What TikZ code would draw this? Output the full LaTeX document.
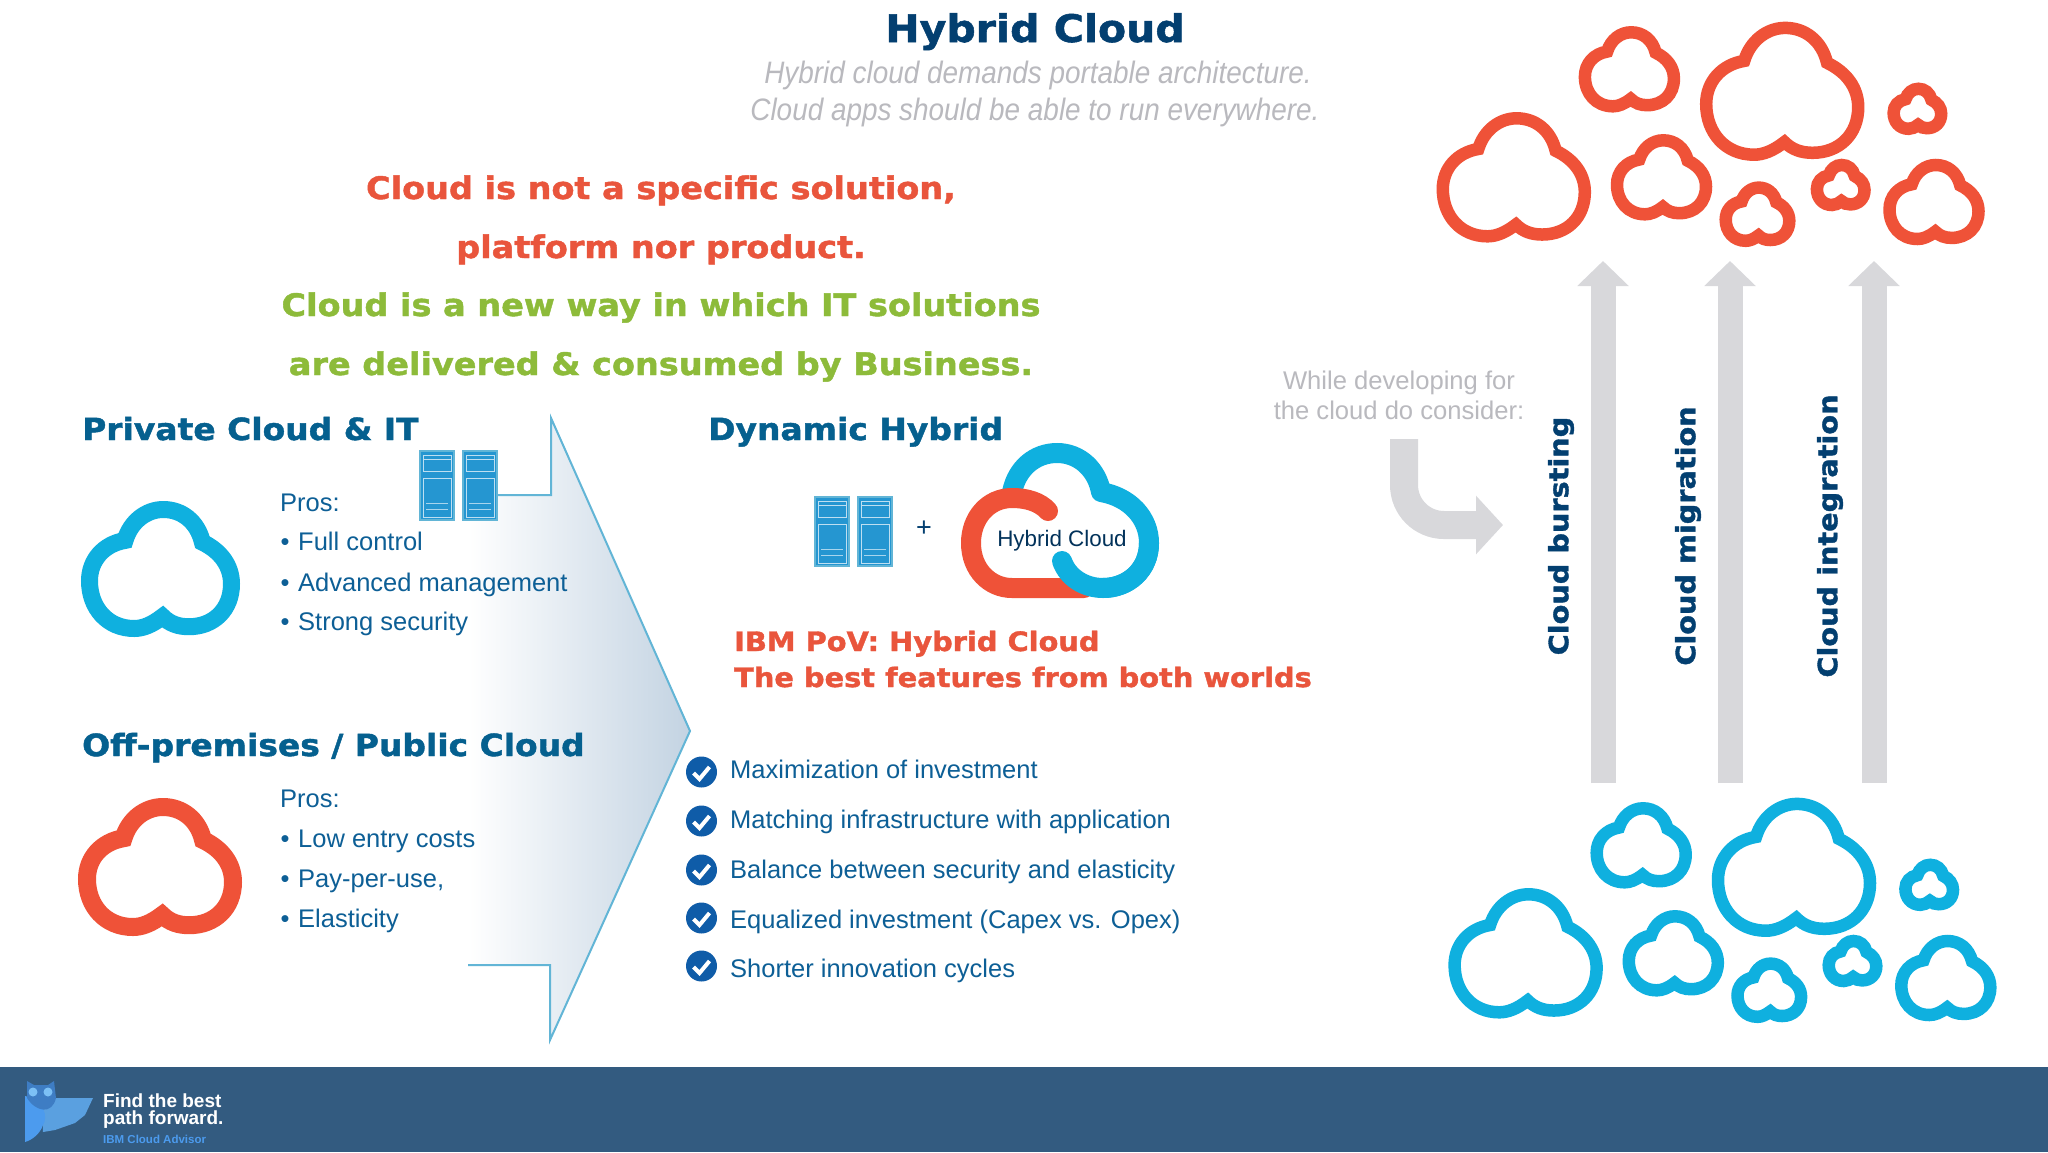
\documentclass[tikz,border=0pt]{standalone}
\usepackage{fontspec}
\setmainfont{Liberation Sans}
\newfontfamily\headfont[FakeStretch=1.08,FakeBold=1.4]{DejaVu Sans Bold}
\newfontfamily\narrowfont[FakeStretch=0.9]{Liberation Sans}
\usepackage{tikz}
\usetikzlibrary{arrows.meta}

\definecolor{cloudred}{HTML}{EF5238}
\definecolor{textred}{HTML}{E9553C}
\definecolor{cloudblue}{HTML}{0FB0DF}
\definecolor{headblue}{HTML}{05608F}
\definecolor{navy}{HTML}{033F70}
\definecolor{bodyblue}{HTML}{0D5F96}
\definecolor{leafgreen}{HTML}{8DBB3A}
\definecolor{palegray}{HTML}{D8D8DB}
\definecolor{textgray}{HTML}{B9B9BE}
\definecolor{edgeblue}{HTML}{62B5D6}
\definecolor{shadeblue}{HTML}{C3D3E2}
\definecolor{serverblue}{HTML}{2596D1}
\definecolor{footerblue}{HTML}{335B80}
\definecolor{checkblue}{HTML}{0F5CA8}
\definecolor{owlbody}{HTML}{4C9BEE}
\definecolor{owlhead}{HTML}{3E7DC4}
\definecolor{owlwing}{HTML}{5AA0E0}
\definecolor{owleye}{HTML}{7CC0F5}

\newcommand{\cloudshape}[6]{
	\draw [#6, line width=#5pt, shift={(#1,#2)}, x=#3pt, y=#4pt]
		(.03,-.8) .. controls (-.12,-.94) and (-.25,-1) .. (-.37,-1)
		.. controls (-.75,-1) and (-1,-.65) .. (-1,-.2)
		.. controls (-1,.15) and (-.8,.42) .. (-.5,.48)
		.. controls (-.42,.8) and (-.2,1) .. (.04,1)
		.. controls (.3,1) and (.52,.8) .. (.59,.45)
		.. controls (.85,.3) and (1,.05) .. (1,-.25)
		.. controls (1,-.68) and (.75,-.97) .. (.4,-.97)
		.. controls (.25,-.97) and (.13,-.92) .. (.03,-.8) -- cycle;
}
\newcommand{\cloudset}[3]{
	\begin{scope}[shift={(#1,#2)}]
		\cloudshape{1513.8}{177.3}{71}{59}{12.5}{#3}
		\cloudshape{1629.4}{69.3}{44.5}{37}{12.5}{#3}
		\cloudshape{1782.2}{91.3}{76}{63.4}{12.5}{#3}
		\cloudshape{1917.4}{108.8}{23.8}{20}{12.5}{#3}
		\cloudshape{1661.5}{177.3}{44.5}{37}{12.5}{#3}
		\cloudshape{1757.5}{214.2}{31.8}{26.6}{12.5}{#3}
		\cloudshape{1840.7}{185}{23.8}{20}{12.5}{#3}
		\cloudshape{1934}{202}{44.5}{37}{12.5}{#3}
	\end{scope}
}
\newcommand{\serverunit}[2]{
	\begin{scope}[shift={(#1,#2)}]
		\fill [serverblue] (0,0) rectangle (34,69);
		\draw [white!70!serverblue, line width=1pt] (3,4) rectangle (31,20);
		\draw [white!70!serverblue, line width=1pt] (3,27) rectangle (31,66);
		\draw [white!70!serverblue, line width=1pt] (3,8) -- (31,8);
		\draw [white!60!serverblue, line width=1pt] (6,52) -- (28,52);
		\draw [white!60!serverblue, line width=1pt] (6,58) -- (28,58);
		\draw [edgeblue, line width=1.2pt] (0,0) rectangle (34,69);
	\end{scope}
}
\newcommand{\tickmark}[2]{
	\fill [checkblue] (#1,#2) circle [radius=15.5];
	\draw [white, line width=4pt, shift={(#1,#2)}] (-8,1) -- (-2,7) -- (8,-5);
}

\tikzset{
	headline/.style = {font = \headfont\fontsize{30.5}{36}\selectfont, text = headblue, anchor = base west, inner sep = 0pt},
	slogan/.style = {font = \headfont\fontsize{31}{36}\selectfont, anchor = base, inner sep = 0pt},
	worst/.style = {font = \headfont\fontsize{26.7}{32}\selectfont, text = textred, anchor = base west, inner sep = 0pt},
	bodytext/.style = {font = \fontsize{25.5}{30}\selectfont, text = bodyblue, anchor = base west, inner sep = 0pt},
	bulletdot/.style = {font = \fontsize{25.5}{30}\selectfont, text = bodyblue, anchor = base, inner sep = 0pt},
	uptitle/.style = {font = \headfont\fontsize{26.6}{30}\selectfont, text = navy, rotate = 90, inner sep = 0pt},
	paleline/.style = {color = palegray}
}

\begin{document}
\begin{tikzpicture}[x=1pt, y=-1pt]
	\useasboundingbox (0,0) rectangle (2048,1152);
	\fill [white] (0,0) rectangle (2048,1152);

	\shade [left color=white, right color=shadeblue]
		(468,495) -- (551,495) -- (551,418) -- (690,731) -- (550,1040) -- (550,965) -- (468,965) -- cycle;
	\draw [edgeblue, line width=2pt] (498,495) -- (551,495) -- (551,418) -- (690,731) -- (550,1040) -- (550,965) -- (468,965);

	\node (title) at (1035,42) [font = \headfont\fontsize{38}{44}\selectfont, text = navy, anchor = base, inner sep = 0pt] {Hybrid Cloud};
	\node (sub1) at (1038,83) [font = \narrowfont\itshape\fontsize{31}{36}\selectfont, text = textgray, anchor = base, inner sep = 0pt] {Hybrid cloud demands portable architecture.};
	\node (sub2) at (1035,120) [font = \narrowfont\itshape\fontsize{31}{36}\selectfont, text = textgray, anchor = base, inner sep = 0pt] {Cloud apps should be able to run everywhere.};

	\node (slogan1) at (661,199) [slogan, text = textred] {Cloud is not a specific solution,};
	\node (slogan2) at (661,258) [slogan, text = textred] {platform nor product.};
	\node (slogan3) at (661,316) [slogan, text = leafgreen] {Cloud is a new way in which IT solutions};
	\node (slogan4) at (661,375) [slogan, text = leafgreen] {are delivered \& consumed by Business.};

	\node (private) at (82,440) [headline] {Private Cloud \& IT};
	\node (public) at (82,756) [headline] {Off-premises / Public Cloud};
	\node (dynamic) at (708,440) [headline] {Dynamic Hybrid};

	\cloudshape{160.5}{569}{71}{59.5}{17}{cloudblue}
	\cloudshape{160}{867}{73}{60}{18}{cloudred}

	\node (pros1) at (280,511) [bodytext] {Pros:};
	\node (dot1) at (285,550) [bulletdot] {•};
	\node (dot2) at (285,591) [bulletdot] {•};
	\node (dot3) at (285,630) [bulletdot] {•};
	\node (item1) at (298,550) [bodytext] {Full control};
	\node (item2) at (298,591) [bodytext] {Advanced management};
	\node (item3) at (298,630) [bodytext] {Strong security};

	\node (pros2) at (280,807) [bodytext] {Pros:};
	\node (dot4) at (285,847) [bulletdot] {•};
	\node (dot5) at (285,887) [bulletdot] {•};
	\node (dot6) at (285,927) [bulletdot] {•};
	\node (item4) at (298,847) [bodytext] {Low entry costs};
	\node (item5) at (298,887) [bodytext] {Pay-per-use,};
	\node (item6) at (298,927) [bodytext] {Elasticity};

	\serverunit{420}{451}
	\serverunit{463}{451}
	\serverunit{815}{497}
	\serverunit{858}{497}

	\node (plus) at (924,529) [font = \fontsize{27}{30}\selectfont, text = navy, inner sep = 0pt] {+};

	\draw [cloudblue, line width=20pt] (1012,492) .. controls (1017,468) and (1035,453) .. (1057,453)
		.. controls (1080,453) and (1097,470) .. (1101,492);
	\draw [cloudblue, line width=20pt, line cap=round] (1101,492) .. controls (1130,497) and (1149,518) .. (1149,543)
		.. controls (1149,570) and (1128,588) .. (1103,588);
	\draw [cloudred, line width=20pt, line cap=round] (1048,511) .. controls (1040,502) and (1027,498) .. (1012,498)
		.. controls (988,498) and (971,518) .. (971,543)
		.. controls (971,570) and (990,588) .. (1012,588) -- (1084,588);
	\draw [cloudblue, line width=20pt, line cap=round] (1062,561) .. controls (1068,578) and (1085,588) .. (1103,588)
		.. controls (1128,588) and (1149,570) .. (1149,543);
	\node (hybrid) at (1062,546) [font = \fontsize{22.4}{26}\selectfont, text = navy!80!black, anchor = base, inner sep = 0pt] {Hybrid Cloud};

	\node (pov1) at (734,651) [worst] {IBM PoV: Hybrid Cloud};
	\node (pov2) at (734,687) [worst] {The best features from both worlds};

	\tickmark{701.5}{772}
	\tickmark{701.5}{821}
	\tickmark{701.5}{870}
	\tickmark{701.5}{918}
	\tickmark{701.5}{966}
	\node (gain1) at (730,778) [bodytext] {Maximization of investment};
	\node (gain2) at (730,828) [bodytext] {Matching infrastructure with application};
	\node (gain3) at (730,878) [bodytext] {Balance between security and elasticity};
	\node (gain4) at (730,928) [bodytext] {Equalized investment (Capex vs. Opex)};
	\node (gain5) at (730,977) [bodytext] {Shorter innovation cycles};

	\node (consider1) at (1399,389) [font = \fontsize{25.6}{30}\selectfont, text = textgray, anchor = base, inner sep = 0pt] {While developing for};
	\node (consider2) at (1399,419) [font = \fontsize{25.6}{30}\selectfont, text = textgray, anchor = base, inner sep = 0pt] {the cloud do consider:};

	\coordinate (bendstart) at (1404,439);
	\coordinate (bendend) at (1503,525);
	\draw [paleline, line width=28pt, rounded corners=40pt, -{Triangle[length=27pt, width=57pt]}] (bendstart) |- (bendend);

	\coordinate (burstlow) at (1603,783);
	\coordinate (bursthigh) at (1603,261);
	\coordinate (migratelow) at (1730,783);
	\coordinate (migratehigh) at (1730,261);
	\coordinate (integratelow) at (1874,783);
	\coordinate (integratehigh) at (1874,261);
	\draw [paleline, line width=25pt, -{Triangle[length=25pt, width=50pt]}] (burstlow) -- (bursthigh);
	\draw [paleline, line width=25pt, -{Triangle[length=25pt, width=50pt]}] (migratelow) -- (migratehigh);
	\draw [paleline, line width=25pt, -{Triangle[length=25pt, width=50pt]}] (integratelow) -- (integratehigh);

	\node (bursting) at (1561,536) [uptitle] {Cloud bursting};
	\node (migration) at (1688,536) [uptitle] {Cloud migration};
	\node (integration) at (1830,536) [uptitle] {Cloud integration};

	\cloudset{0}{0}{cloudred}
	\cloudset{11.8}{776}{cloudblue}

	\fill [footerblue] (0,1067) rectangle (2048,1152);
	\fill [owlwing] (42,1098) -- (93,1098) -- (85,1115) -- (75,1123) -- (55,1130) -- (43,1132) -- cycle;
	\fill [owlbody] (25,1096) .. controls (45,1100) and (48,1118) .. (43,1125) .. controls (40,1134) and (32,1140) .. (25,1142) -- cycle;
	\fill [owlhead] (27,1081) -- (34,1085) -- (48,1085) -- (54,1081) -- (56,1098) .. controls (52,1115) and (36,1112) .. (27,1098) -- cycle;
	\fill [owleye] (33,1092) circle [radius=4.5];
	\fill [owleye] (48,1092) circle [radius=4.5];
	\node (find) at (103,1107) [font = \bfseries\fontsize{19}{20}\selectfont, text = white, anchor = base west, inner sep = 0pt] {Find the best};
	\node (path) at (103,1124) [font = \bfseries\fontsize{19}{20}\selectfont, text = white, anchor = base west, inner sep = 0pt] {path forward.};
	\node (advisor) at (103,1143) [font = \bfseries\fontsize{11.5}{12}\selectfont, text = owlbody, anchor = base west, inner sep = 0pt] {IBM Cloud Advisor};
\end{tikzpicture}
\end{document}
